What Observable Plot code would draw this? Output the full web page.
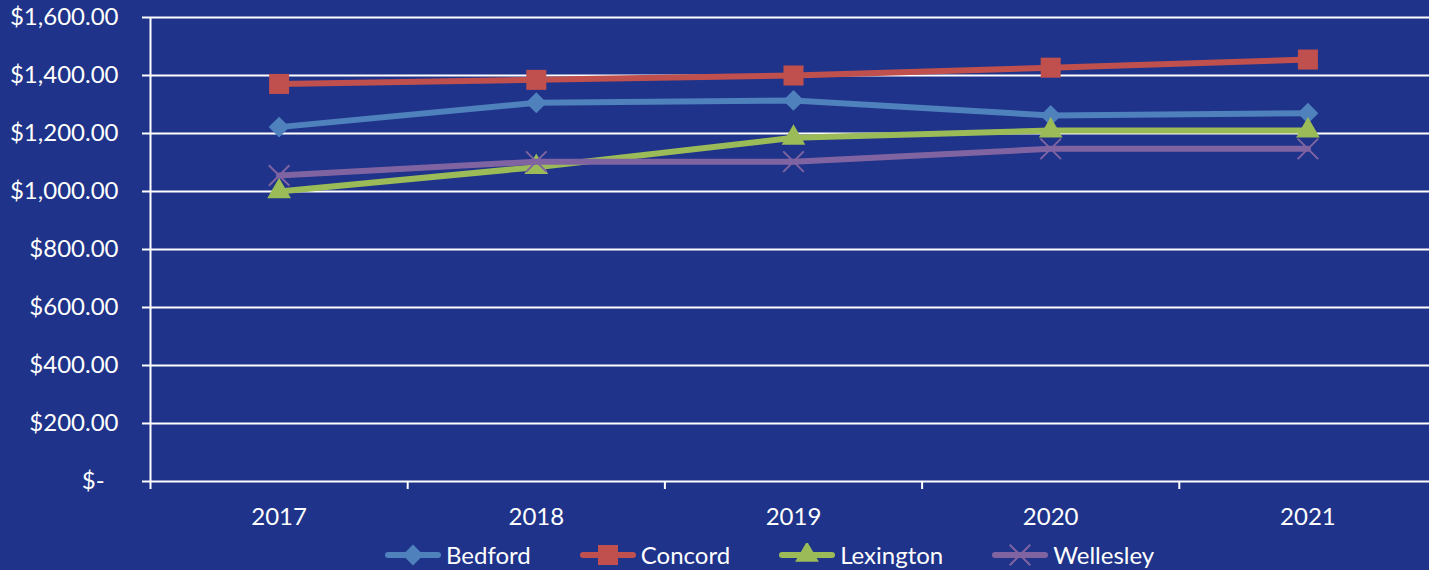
<!DOCTYPE html>
<html>
<head>
<meta charset="utf-8">
<script src="https://cdn.jsdelivr.net/npm/d3@7"></script>
<script src="https://cdn.jsdelivr.net/npm/@observablehq/plot@0.6"></script>
<style>
  html, body { margin: 0; padding: 0; background: #1E3389; overflow: hidden; width: 1429px; height: 570px; }
  #chart { position: absolute; left: 0; top: 0; }
  #chart svg { overflow: visible; }
  #legend { position: absolute; left: 385px; top: 541px; height: 28px; display: flex; align-items: center; gap: 49px;
            font-family: Lato, "Open Sans", sans-serif; font-size: 24px; color: white; }
  .item { display: flex; align-items: center; }
  .item span { margin-left: 5px; line-height: 28px; }
</style>
</head>
<body>
<div id="chart"></div>
<div id="legend"></div>
<script>
// ---- data ----
const years = [2017, 2018, 2019, 2020, 2021];
const seriesNames = ["Bedford", "Concord", "Lexington", "Wellesley"];
const bedford   = [1222, 1306, 1314, 1262, 1270];
const concord   = [1371, 1385, 1400, 1427, 1455];
const lexington = [1000, 1084, 1185, 1210, 1210];
const wellesley = [1055, 1103, 1103, 1147, 1147];
const seriesColors = ["#4F81BD", "#C0504D", "#9BBB59", "#8064A2"];
const yTicks = [0, 200, 400, 600, 800, 1000, 1200, 1400, 1600];
const xBoundaries = [2016.5, 2017.5, 2018.5, 2019.5, 2020.5, 2021.5];

const valuesBySeries = [bedford, concord, lexington, wellesley];
const data = seriesNames.flatMap((s, i) => years.map((y, j) => ({series: s, year: y, value: valuesBySeries[i][j]})));

const markerSpec = [
  {symbol: d3.symbolDiamond2, r: 9.4, filled: true},
  {symbol: d3.symbolSquare, r: 11.3, filled: true},
  {symbol: d3.symbolTriangle, r: 8.8, filled: true},
  {symbol: d3.symbolTimes, r: 9.4, filled: false}
];

const money = d => d === 0 ? "$-\u2007" : "$" + d3.format(",.2f")(d);

const seriesMarks = seriesNames.flatMap((s, i) => {
  const rows = data.filter(d => d.series === s);
  const m = markerSpec[i];
  return [
    Plot.line(rows, {x: "year", y: "value", stroke: seriesColors[i], strokeWidth: 6, strokeLinecap: "round", strokeLinejoin: "round"}),
    Plot.dot(rows, m.filled
      ? {x: "year", y: "value", symbol: () => m.symbol, r: m.r, fill: seriesColors[i], stroke: "none"}
      : {x: "year", y: "value", symbol: () => m.symbol, r: m.r, fill: "none", stroke: seriesColors[i], strokeWidth: 2})
  ];
});

const chart = Plot.plot({
  width: 1429,
  height: 535,
  marginLeft: 150,
  marginRight: 0,
  marginTop: 17,
  marginBottom: 54,
  style: {background: "transparent", color: "white", fontFamily: "Lato, 'Open Sans', sans-serif", fontSize: "24px", overflow: "visible"},
  x: {type: "linear", domain: [2016.5, 2021.5], range: [150, 1436]},
  y: {domain: [0, 1600]},
  symbol: {type: "identity"},
  marks: [
    Plot.gridY(yTicks, {stroke: "white", strokeOpacity: 1, strokeWidth: 2}),
    Plot.ruleX([2016.5], {y1: 0, y2: 1600, stroke: "white", strokeWidth: 2}),
    Plot.axisY(yTicks, {tickSize: 8, tickPadding: 24, tickFormat: money, stroke: "white", strokeWidth: 2, fill: "white", label: null}),
    Plot.axisX(xBoundaries, {tickSize: 8, tickFormat: () => "", stroke: "white", strokeWidth: 2, label: null}),
    Plot.axisX(years, {tickSize: 0, tickPadding: 26, tickFormat: d => String(d), fill: "white", label: null}),
    ...seriesMarks
  ]
});
document.getElementById("chart").appendChild(chart);

// ---- legend ----
const legend = document.getElementById("legend");
seriesNames.forEach((s, i) => {
  const m = markerSpec[i];
  const size = m.r * m.r * Math.PI;
  const path = d3.symbol().type(m.symbol).size(size)();
  const item = document.createElement("div");
  item.className = "item";
  item.innerHTML =
    `<svg width="56" height="24" viewBox="0 0 56 24">
       <line x1="3" y1="12" x2="53" y2="12" stroke="${seriesColors[i]}" stroke-width="6" stroke-linecap="round"/>
       <path d="${path}" transform="translate(28,12)" ${m.filled ? `fill="${seriesColors[i]}"` : `fill="none" stroke="${seriesColors[i]}" stroke-width="2"`}/>
     </svg><span>${s}</span>`;
  legend.appendChild(item);
});
</script>
</body>
</html>
